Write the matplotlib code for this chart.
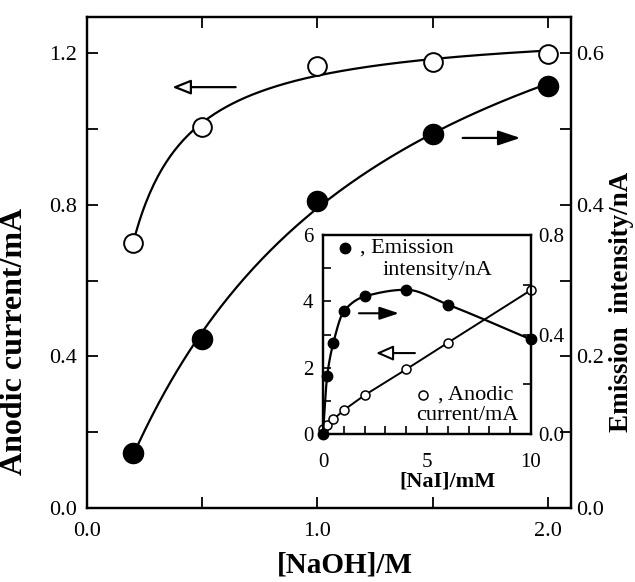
import numpy as np
import matplotlib
matplotlib.use("Agg")
import matplotlib.pyplot as plt

plt.rcParams['font.family'] = ['Liberation Serif', 'DejaVu Serif']

# ------------------------------ data ------------------------------
naoh = [0.2, 0.5, 1.0, 1.5, 2.0]                       # [NaOH]/M
anodic_main = [0.70, 1.005, 1.166, 1.177, 1.198]       # mA (left axis)
emission_main = [0.0725, 0.223, 0.405, 0.493, 0.557]   # nA (right axis)

nai = [0, 0.2, 0.5, 1, 2, 4, 6, 10]                    # [NaI]/mM
emission_ins = [0.0, 0.233, 0.367, 0.493, 0.553, 0.58, 0.52, 0.38]   # right inset axis
anodic_ins = [0.14, 0.27, 0.44, 0.72, 1.17, 1.95, 2.75, 4.34]        # left inset axis


def hyp_fit(x, y):
    # y = a - b/(x + c), least squares on a grid of c
    x = np.asarray(x, float); y = np.asarray(y, float)
    best = None
    for c in np.linspace(0.01, 8, 1600):
        A = np.column_stack([np.ones_like(x), -1.0 / (x + c)])
        coef = np.linalg.lstsq(A, y, rcond=None)[0]
        err = np.sum((A @ coef - y) ** 2)
        if best is None or err < best[0]:
            best = (err, coef[0], coef[1], c)
    _, a, b, c = best
    return lambda t: a - b / (t + c)


def pchip(x, y, xs):
    x = np.asarray(x, float); y = np.asarray(y, float)
    h = np.diff(x); d = np.diff(y) / h
    m = np.zeros_like(y)
    for k in range(1, len(x) - 1):
        if d[k - 1] * d[k] > 0:
            w1 = 2 * h[k] + h[k - 1]; w2 = h[k] + 2 * h[k - 1]
            m[k] = (w1 + w2) / (w1 / d[k - 1] + w2 / d[k])
    m[0] = d[0]; m[-1] = d[-1]
    idx = np.clip(np.searchsorted(x, xs) - 1, 0, len(x) - 2)
    t = (xs - x[idx]) / h[idx]
    h00 = 2 * t**3 - 3 * t**2 + 1; h10 = t**3 - 2 * t**2 + t
    h01 = -2 * t**3 + 3 * t**2; h11 = t**3 - t**2
    return h00 * y[idx] + h10 * h[idx] * m[idx] + h01 * y[idx + 1] + h11 * h[idx] * m[idx + 1]


W, H = 635, 582
fig = plt.figure(figsize=(W / 100, H / 100), dpi=100)
ax = fig.add_axes([87 / W, (H - 508) / H, 484 / W, 491 / H])
ax2 = ax.twinx()

xs = np.linspace(0.2, 2.0, 200)
f1 = hyp_fit(naoh, anodic_main)
f2 = hyp_fit(naoh, emission_main)
ax.plot(xs, f1(xs), 'k-', lw=1.6)
ax.plot(naoh, anodic_main, 'o', ms=13.5, mfc='white', mec='black', mew=1.4)
ax2.plot(xs, f2(xs), 'k-', lw=1.6)
ax2.plot(naoh, emission_main, 'o', ms=14.5, mfc='black', mec='black')

ax.set_xlim(0, 2.1)
ax.set_ylim(0, 1.295)
ax2.set_ylim(0, 0.6475)
ax.set_xticks([0.0, 1.0, 2.0])
ax.set_xticklabels(['0.0', '1.0', '2.0'])
ax.set_xticks([0.5, 1.5], minor=True)
ax.set_yticks([0.0, 0.4, 0.8, 1.2])
ax.set_yticklabels(['0.0', '0.4', '0.8', '1.2'])
ax.set_yticks([0.2, 0.6, 1.0], minor=True)
ax2.set_yticks([0.0, 0.2, 0.4, 0.6])
ax2.set_yticklabels(['0.0', '0.2', '0.4', '0.6'])
ax2.set_yticks([0.1, 0.3, 0.5], minor=True)
ax.tick_params(axis='x', which='both', direction='in', top=True, length=8, width=1.3,
               labelsize=16, pad=10)
ax.tick_params(axis='y', which='both', direction='in', length=8, width=1.3, labelsize=16, pad=7)
ax2.tick_params(axis='y', which='both', direction='in', length=8, width=1.3, labelsize=16, pad=4)
for a in (ax, ax2):
    for s in a.spines.values():
        s.set_linewidth(1.6)

ax.set_xlabel('[NaOH]/M', fontsize=21, fontweight='bold')
ax.xaxis.set_label_coords(0.533, -0.088)
ax.set_ylabel('Anodic current/mA', fontsize=23, fontweight='bold')
ax.yaxis.set_label_coords(-0.12, 0.34)
ax2.set_ylabel('Emission  intensity/nA', fontsize=19.5, fontweight='bold')
ax2.yaxis.set_label_coords(1.079, 0.42)

ax.annotate('', xy=(0.37, 1.11), xytext=(0.645, 1.11),
            arrowprops=dict(arrowstyle='-|>,head_length=0.75,head_width=0.3', lw=1.6,
                            mutation_scale=15, fc='white', ec='black', shrinkA=0, shrinkB=0))
ax2.annotate('', xy=(1.88, 0.488), xytext=(1.63, 0.488),
             arrowprops=dict(arrowstyle='-|>,head_length=0.9,head_width=0.3', lw=1.6,
                             mutation_scale=15, fc='black', ec='black', shrinkA=0, shrinkB=0))

# ------------------------------ inset ------------------------------
ins = fig.add_axes([323 / W, (H - 434) / H, 208 / W, 199 / H])
ins2 = ins.twinx()
ins.set_facecolor('white')
xi = np.linspace(0, 10, 400)
ins2.plot(xi, pchip(nai, emission_ins, xi), 'k-', lw=1.6)
ins2.plot(nai, emission_ins, 'o', ms=7.5, mfc='black', mec='black', clip_on=False)
ins.plot(nai, anodic_ins, 'k-', lw=1.4)
ins.plot(nai, anodic_ins, 'o', ms=6.5, mfc='white', mec='black', mew=1.1, clip_on=False, zorder=5)

ins.set_xlim(0, 10)
ins.set_ylim(0, 6)
ins2.set_ylim(0, 0.8)
ins.set_xticks([0, 5, 10])
ins.set_xticklabels(['0', '5', '10'])
ins.set_xticks(np.arange(1, 10), minor=True)
ins.set_yticks([0, 2, 4, 6])
ins.set_yticklabels(['0', '2', '4', '6'])
ins.set_yticks([1, 3, 5], minor=True)
ins2.set_yticks([0.0, 0.4, 0.8])
ins2.set_yticklabels(['0.0', '0.4', '0.8'])
ins2.set_yticks([0.2, 0.6], minor=True)
ins.tick_params(axis='x', which='both', direction='in', length=6, width=1.2, labelsize=15, pad=14)
ins.tick_params(axis='y', which='both', direction='in', length=6, width=1.2, labelsize=15, pad=7)
ins2.tick_params(axis='y', which='both', direction='in', length=6, width=1.2, labelsize=15, pad=5)
for a in (ins, ins2):
    for s in a.spines.values():
        s.set_linewidth(1.6)
ins.set_xlabel('[NaI]/mM', fontsize=16, fontweight='bold')
ins.xaxis.set_label_coords(0.60, -0.19)

ins.plot([0.106], [0.935], 'o', ms=7.5, mfc='black', mec='black', transform=ins.transAxes)
ins.text(0.178, 0.935, ', Emission', fontsize=16, transform=ins.transAxes, va='center')
ins.text(0.284, 0.82, 'intensity/nA', fontsize=16, transform=ins.transAxes, va='center')
ins.plot([0.48], [0.196], 'o', ms=6.5, mfc='white', mec='black', mew=1.1, transform=ins.transAxes)
ins.text(0.553, 0.196, ', Anodic', fontsize=16, transform=ins.transAxes, va='center')
ins.text(0.447, 0.095, 'current/mA', fontsize=16, transform=ins.transAxes, va='center')

ins.annotate('', xy=(3.65, 3.64), xytext=(1.73, 3.64),
             arrowprops=dict(arrowstyle='-|>,head_length=0.9,head_width=0.3', lw=1.5,
                             mutation_scale=13, fc='black', ec='black', shrinkA=0, shrinkB=0))
ins.annotate('', xy=(2.55, 2.44), xytext=(4.42, 2.44),
             arrowprops=dict(arrowstyle='-|>,head_length=0.8,head_width=0.35', lw=1.5,
                             mutation_scale=13, fc='white', ec='black', shrinkA=0, shrinkB=0))

fig.savefig('out.png', dpi=100)
